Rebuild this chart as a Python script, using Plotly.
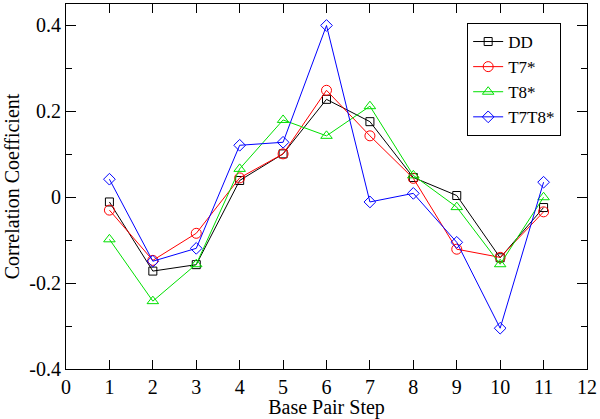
import plotly.graph_objects as go

steps = [1, 2, 3, 4, 5, 6, 7, 8, 9, 10, 11]
dd = [-0.011, -0.172, -0.157, 0.039, 0.101, 0.228, 0.176, 0.046, 0.004, -0.141, -0.024]
t7 = [-0.030, -0.147, -0.084, 0.045, 0.101, 0.249, 0.143, 0.044, -0.121, -0.140, -0.034]
t8 = [-0.098, -0.242, -0.156, 0.066, 0.180, 0.143, 0.212, 0.051, -0.023, -0.156, 0.000]
t7t8 = [0.042, -0.149, -0.119, 0.121, 0.128, 0.400, -0.011, 0.009, -0.105, -0.305, 0.035]

series_names = ["DD", "T7*", "T8*", "T7T8*"]
x_ticks = list(range(0, 13))
y_ticks = [-0.4, -0.2, 0, 0.2, 0.4]
y_tick_labels = ["-0.4", "-0.2", "0", "0.2", "0.4"]

FONT = "Times New Roman, Liberation Serif, DejaVu Serif, serif"

styles = [
    dict(color="#000000", symbol="square-open", size=8),
    dict(color="#ff0000", symbol="circle-open", size=10),
    dict(color="#00e000", symbol="triangle-up-open", size=10),
    dict(color="#0000ff", symbol="diamond-open", size=9),
]

fig = go.Figure()
for name, vals, st in zip(series_names, [dd, t7, t8, t7t8], styles):
    fig.add_trace(go.Scatter(
        x=steps, y=vals, name=name, mode="lines+markers",
        line=dict(color=st["color"], width=1),
        marker=dict(symbol=st["symbol"], size=st["size"], color=st["color"],
                    line=dict(color=st["color"], width=1)),
    ))

fig.update_layout(
    width=600, height=419,
    margin=dict(l=66, r=13, t=4, b=50),
    plot_bgcolor="white", paper_bgcolor="white",
    font=dict(family=FONT, size=20, color="black"),
    showlegend=True,
    legend=dict(
        x=0.77, y=0.948, xanchor="left", yanchor="top",
        bordercolor="black", borderwidth=1, bgcolor="white",
        font=dict(family=FONT, size=17), tracegroupgap=0,
        itemwidth=30,
    ),
    xaxis=dict(
        range=[0, 12], tickvals=x_ticks, ticktext=[str(v) for v in x_ticks],
        ticks="inside", ticklen=9, tickwidth=1, tickcolor="black",
        showline=True, linecolor="black", linewidth=1, mirror="allticks",
        showgrid=False, zeroline=False,
        title=dict(text="Base Pair Step", font=dict(family=FONT, size=20), standoff=0),
        tickfont=dict(family=FONT, size=20),
    ),
    yaxis=dict(
        range=[-0.4, 0.45], tickvals=y_ticks, ticktext=y_tick_labels,
        ticks="inside", ticklen=10, tickwidth=1, tickcolor="black",
        showline=True, linecolor="black", linewidth=1, mirror="allticks",
        showgrid=False, zeroline=False,
        minor=dict(tickvals=[-0.3, -0.1, 0.1, 0.3], ticks="inside", ticklen=6,
                   tickcolor="black", showgrid=False),
        title=dict(text="Correlation Coefficient", font=dict(family=FONT, size=20), standoff=4),
        tickfont=dict(family=FONT, size=20),
    ),
)

fig.write_html("out.html", config={"displayModeBar": False},
               post_script="document.body.style.margin='0px';")
